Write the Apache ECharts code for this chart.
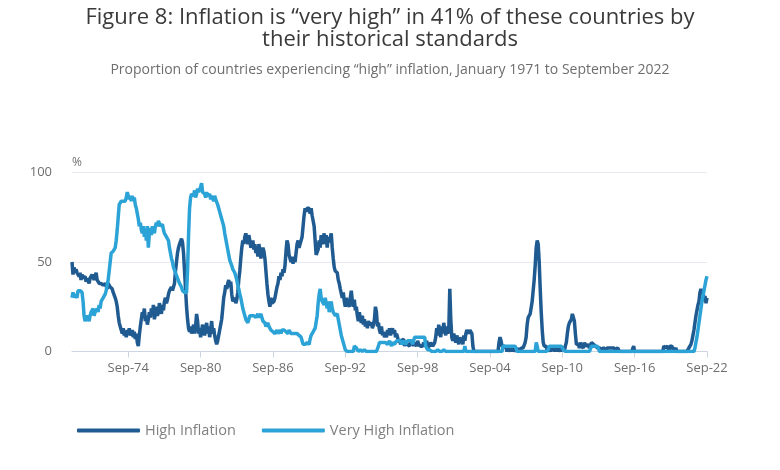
<!DOCTYPE html>
<html>
<head>
<meta charset="utf-8">
<script src="https://cdn.jsdelivr.net/npm/echarts@6/dist/echarts.min.js"></script>
<style>
  html, body { margin: 0; padding: 0; background: #fff; }
  #chart { width: 780px; height: 470px; }
</style>
</head>
<body>
<div id="chart"></div>
<script>
// months Jan-70 .. Sep-22, one row per year
const startYear = 1970;
const endYear = 2022;
const lastMonth = 8; // Sep

const monthNames = ['Jan','Feb','Mar','Apr','May','Jun','Jul','Aug','Sep','Oct','Nov','Dec'];
const tickLabels = ['Sep-74','Sep-80','Sep-86','Sep-92','Sep-98','Sep-04','Sep-10','Sep-16','Sep-22'];

const categories = [];
for (let y = startYear; y <= endYear; y++) {
    for (let m = 0; m < 12; m++) {
        if (y === endYear && m > lastMonth) break;
        categories.push(monthNames[m] + '-' + String(y).slice(2));
    }
}

const highInflation = [
    50,43,47,44,46,44,45,42,44,40,43,41,   // 1970
    40,42,39,41,40,38,41,40,43,44,40,39,
    44,40,39,38,37,38,38,37,36,38,37,35,
    38,38,36,37,35,33,34,30,28,25,20,16,
    14,12,10,13,9,11,8,12,10,13,9,10,
    12,8,11,7,10,5,3,9,14,18,22,20,        // 1975
    24,17,20,15,18,22,19,24,20,26,18,21,
    25,20,22,27,24,21,26,23,28,30,27,29,
    32,34,33,36,34,35,38,45,50,55,58,60,
    60,63,61,55,45,35,25,18,13,11,14,10,
    12,15,10,14,21,17,10,13,8,12,15,11,    // 1980
    9,13,16,10,14,8,12,17,10,13,9,6,
    4,6,9,12,15,18,24,30,33,37,35,38,
    40,36,39,32,28,27,30,27,29,33,40,45,
    52,58,62,60,64,66,63,60,65,62,58,60,
    62,57,60,55,58,53,60,56,52,55,58,56,   // 1985
    52,45,38,32,28,25,30,27,26,28,30,33,
    36,38,42,40,44,42,46,44,48,56,62,60,
    54,52,50,53,49,52,50,55,60,62,58,60,
    60,64,70,76,80,78,80,79,80,77,80,76,
    75,70,62,54,53,57,62,58,65,60,63,66,   // 1990
    60,65,58,64,61,62,66,58,52,47,45,46,
    44,40,38,35,36,30,33,28,25,30,27,26,
    25,30,34,28,25,29,23,25,20,17,22,18,
    16,20,15,18,14,16,13,17,15,14,16,13,
    15,18,25,22,14,16,12,10,14,9,11,8,     // 1995
    10,8,12,10,13,9,11,13,10,12,8,10,
    8,5,7,4,6,5,7,3,5,6,4,5,
    3,5,4,6,3,5,4,3,6,4,5,3,
    4,3,5,3,4,6,3,4,3,5,4,3,
    3,5,8,13,9,15,11,8,14,10,16,12,        // 2000
    9,14,10,12,35,18,8,6,10,7,5,9,
    6,4,8,5,7,4,9,6,10,12,11,10,
    12,11,10,3,0,0,0,0,0,0,0,0,
    0,0,0,0,0,0,0,0,0,0,0,0,
    0,0,0,0,0,5,8,6,3,2,3,2,               // 2005
    2,0,2,3,0,2,0,2,3,0,0,2,
    0,2,0,2,3,2,3,5,8,15,19,20,
    21,20,28,34,40,48,58,62,60,50,35,22,
    12,5,3,2,3,0,2,3,0,2,3,2,
    0,3,2,0,2,3,0,2,3,2,0,3,               // 2010
    5,10,14,16,15,18,21,21,17,10,4,3,
    4,2,5,3,4,2,5,3,2,4,5,2,
    3,5,5,4,5,3,2,2,1,2,2,1,
    2,2,2,1,2,2,2,2,1,2,2,2,
    2,1,2,2,1,0,0,0,0,0,0,0,               // 2015
    0,0,0,0,0,0,0,3,0,0,0,0,
    0,0,0,0,0,0,0,0,0,0,0,0,
    0,0,0,0,0,0,0,0,0,0,0,0,
    0,3,3,2,3,3,0,3,3,3,2,0,
    0,2,0,0,0,0,0,0,0,0,0,0,               // 2020
    0,0,2,3,4,6,9,12,16,20,23,26,
    28,33,35,32,34,28,31,27,30
];

const veryHighInflation = [
    30,33,30,32,33,30,34,35,34,35,33,28,   // 1970
    20,17,18,20,19,17,20,22,21,24,20,22,
    21,24,22,26,24,28,27,30,29,32,34,37,
    40,45,50,55,54,56,55,58,62,68,75,82,
    83,84,83,84,83,84,86,89,88,85,87,84,
    87,84,86,82,80,77,74,70,72,68,66,70,   // 1975
    64,68,62,70,58,66,69,65,70,68,66,70,
    72,70,73,72,70,69,71,68,66,67,64,65,
    62,58,55,52,50,47,46,44,43,41,40,38,
    38,36,34,35,33,32,33,45,65,80,86,88,
    89,87,90,86,88,91,89,90,92,94,89,88,   // 1980
    88,86,89,87,86,88,85,87,86,84,87,85,
    84,82,80,78,76,74,72,70,66,63,60,57,
    54,51,50,48,46,45,44,42,40,37,35,32,
    30,27,24,22,20,18,17,16,18,20,19,20,
    21,20,21,19,20,21,19,20,21,19,17,16,   // 1985
    16,14,15,16,14,13,12,13,11,12,10,11,
    12,10,11,12,10,12,11,12,12,11,10,10,
    12,11,10,9,10,9,10,9,10,9,9,9,
    8,6,4,3,4,3,5,6,4,7,9,10,
    11,12,13,14,20,27,32,35,30,28,29,26,   // 1990
    30,27,24,28,22,25,28,24,22,21,20,19,
    21,18,15,12,9,7,5,3,1,0,0,0,
    0,0,0,0,0,3,3,2,1,0,0,1,
    1,0,0,1,0,0,1,0,0,0,1,0,
    0,0,0,0,1,3,5,6,5,6,5,6,               // 1995
    5,6,4,5,6,5,3,5,6,4,5,6,
    5,6,5,6,4,5,6,5,4,5,6,5,
    6,5,6,4,5,8,9,8,9,8,9,8,
    9,8,9,8,3,2,1,0,1,0,0,1,
    0,1,0,0,1,0,0,1,0,0,1,0,               // 2000
    0,0,0,0,0,0,0,0,0,0,0,0,
    0,0,0,0,0,0,0,3,0,0,0,0,
    0,0,0,0,0,0,0,0,0,0,0,0,
    0,0,0,0,0,0,0,0,0,0,0,0,
    0,0,0,0,0,0,0,0,0,3,3,3,               // 2005
    3,3,3,3,3,3,3,3,3,3,3,0,
    0,0,0,0,0,0,0,0,0,0,0,0,
    0,0,0,0,0,0,5,3,0,0,0,0,
    0,0,0,0,0,0,1,3,3,3,3,3,
    3,3,3,3,3,3,3,3,3,1,0,0,               // 2010
    0,0,0,0,0,0,0,0,0,0,0,0,
    0,0,0,0,0,0,0,0,0,0,0,0,
    0,3,3,3,3,3,3,3,3,0,0,0,
    0,0,0,0,0,0,0,0,0,0,0,0,
    0,0,0,0,0,0,0,0,0,0,0,0,               // 2015
    0,0,0,0,0,0,0,0,0,0,0,0,
    0,0,0,0,0,0,0,0,0,0,0,0,
    0,0,0,0,0,0,0,0,0,0,0,0,
    0,0,0,0,0,0,0,0,0,0,0,0,
    0,0,0,0,0,0,0,0,0,0,0,0,               // 2020
    0,0,0,0,0,0,0,0,2,5,8,12,
    16,20,24,28,31,34,37,40,42
];

const showTick = (i, v) => tickLabels.indexOf(v) >= 0;

let myChart = echarts.init(document.getElementById('chart'));

myChart.setOption({
    animation: false,
    textStyle: { fontFamily: 'Open Sans' },
    title: {
        left: 'center',
        top: 2,
        text: 'Figure 8: Inflation is \u201cvery high\u201d in 41% of these countries by\ntheir historical standards',
        textStyle: {
            fontSize: 22,
            fontWeight: 'normal',
            color: '#3a3a3a',
            lineHeight: 22,
            fontFamily: 'Open Sans'
        },
        subtext: 'Proportion of countries experiencing \u201chigh\u201d inflation, January 1971 to September 2022',
        subtextStyle: {
            fontSize: 14,
            color: '#6e6e6e',
            fontFamily: 'Open Sans'
        },
        itemGap: 12
    },
    legend: {
        left: 72,
        top: 418,
        icon: 'roundRect',
        itemWidth: 63,
        itemHeight: 4,
        itemGap: 26,
        textStyle: { fontSize: 14.5, color: '#808080' },
        data: ['High Inflation', 'Very High Inflation']
    },
    grid: {
        left: 72,
        right: 73,
        top: 172.5,
        bottom: 118.5,
        containLabel: false
    },
    xAxis: {
        type: 'category',
        boundaryGap: false,
        data: categories,
        axisLine: { lineStyle: { color: '#ccd5e2', width: 1 } },
        axisTick: { interval: showTick, length: 6, lineStyle: { color: '#ccd5e2' } },
        axisLabel: {
            interval: showTick,
            color: '#6e6e6e',
            fontSize: 13,
            margin: 10
        },
        splitLine: { show: false }
    },
    yAxis: {
        type: 'value',
        min: 0,
        max: 100,
        interval: 50,
        name: '%',
        nameLocation: 'end',
        nameGap: 4,
        nameTextStyle: { color: '#6e6e6e', fontSize: 12, align: 'left' },
        axisLine: { show: false },
        axisTick: { show: false },
        axisLabel: { color: '#6e6e6e', fontSize: 13, margin: 20 },
        splitLine: { lineStyle: { color: '#e6e9ee' } }
    },
    series: [
        {
            name: 'High Inflation',
            type: 'line',
            data: highInflation,
            showSymbol: false,
            color: '#1f5a91',
            lineStyle: { width: 3.5, color: '#1f5a91' }
        },
        {
            name: 'Very High Inflation',
            type: 'line',
            data: veryHighInflation,
            showSymbol: false,
            color: '#2ca3d6',
            lineStyle: { width: 3.5, color: '#2ca3d6' }
        }
    ]
});
</script>
</body>
</html>
